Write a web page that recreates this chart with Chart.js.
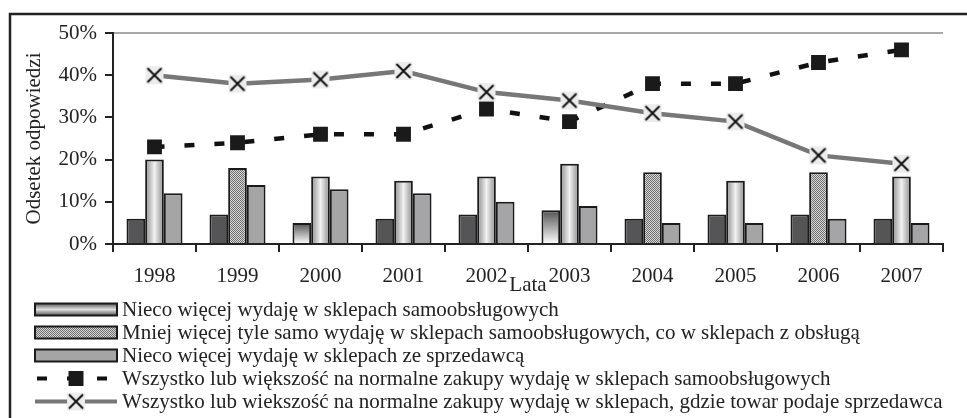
<!DOCTYPE html>
<html>
<head>
<meta charset="utf-8">
<script src="https://cdn.jsdelivr.net/npm/chart.js@4/dist/chart.umd.min.js"></script>
<style>
  html, body { margin: 0; padding: 0; background: #fff; }
  #wrap { width: 967px; height: 418px; position: relative; }
</style>
</head>
<body>
<div id="wrap"><canvas id="chart" width="967" height="418"></canvas></div>
<script>
// Dane (%)
const lata = ["1998", "1999", "2000", "2001", "2002", "2003", "2004", "2005", "2006", "2007"];
const niecoSamoobsl = [6, 7, 5, 6, 7, 8, 6, 7, 7, 6];
const tyleSamo = [20, 18, 16, 15, 16, 19, 17, 15, 17, 16];
const niecoSprzedawca = [12, 14, 13, 12, 10, 9, 5, 5, 6, 5];
const wszystkoSamoobsl = [23, 24, 26, 26, 32, 29, 38, 38, 43, 46];
const wszystkoSprzedawca = [40, 38, 39, 41, 36, 34, 31, 29, 21, 19];
const yTicks = [0, 10, 20, 30, 40, 50];

const etykiety = [
  "Nieco więcej wydaję w sklepach samoobsługowych",
  "Mniej więcej tyle samo wydaję w sklepach samoobsługowych, co w sklepach z obsługą",
  "Nieco więcej wydaję w sklepach ze sprzedawcą",
  "Wszystko lub większość na normalne zakupy wydaję w sklepach samoobsługowych",
  "Wszystko lub wiekszość na normalne zakupy wydaję w sklepach, gdzie towar podaje sprzedawca"
];

const FONT = "'Liberation Serif', 'Times New Roman', serif";
const INK = "#222";
const CAT_PCT = 0.675;

// wzór kropkowany dla drugiej serii
function dotPattern() {
  const c = document.createElement("canvas");
  c.width = 2; c.height = 2;
  const g = c.getContext("2d");
  g.fillStyle = "#d8d8d8"; g.fillRect(0, 0, 2, 2);
  g.fillStyle = "#6e6e6e"; g.fillRect(0, 0, 1, 1); g.fillRect(1, 1, 1, 1);
  return g.createPattern(c, "repeat");
}
const dots = dotPattern();

// znacznik X na jasnym kwadracie
function xMarker() {
  const c = document.createElement("canvas");
  c.width = 20; c.height = 20;
  const g = c.getContext("2d");
  g.fillStyle = "#ececec"; g.fillRect(1, 1, 18, 18);
  g.strokeStyle = "#111"; g.lineWidth = 2;
  g.beginPath();
  g.moveTo(3, 3); g.lineTo(17, 17);
  g.moveTo(17, 3); g.lineTo(3, 17);
  g.stroke();
  return c;
}
const xImg = xMarker();

function barWidth(chart) {
  const x = chart.scales.x;
  return (x.width / lata.length) * CAT_PCT / 3;
}

// poziomy gradient (jasny środek) dla części słupków drugiej serii
const gradIdx2 = [0, 2, 3, 4, 5, 7, 9];
function fill2(ctx) {
  const chart = ctx.chart;
  if (!chart.chartArea || !gradIdx2.includes(ctx.dataIndex)) return dots;
  const bw = barWidth(chart);
  const cx = chart.scales.x.getPixelForValue(ctx.dataIndex);
  const g = chart.ctx.createLinearGradient(cx - bw / 2, 0, cx + bw / 2, 0);
  g.addColorStop(0, "#8a8a8a");
  g.addColorStop(0.5, "#f2f2f2");
  g.addColorStop(1, "#8a8a8a");
  return g;
}

// pionowy gradient dla dwóch słupków pierwszej serii
const gradIdx1 = [2, 5];
function fill1(ctx) {
  const chart = ctx.chart;
  if (!chart.chartArea || !gradIdx1.includes(ctx.dataIndex)) return "#555558";
  const y = chart.scales.y;
  const g = chart.ctx.createLinearGradient(0, y.getPixelForValue(niecoSamoobsl[ctx.dataIndex]), 0, y.getPixelForValue(0));
  g.addColorStop(0, "#505050");
  g.addColorStop(1, "#ffffff");
  return g;
}

// ramka wokół całego wykresu
const ramka = {
  id: "ramka",
  beforeDraw(chart) {
    const c = chart.ctx;
    c.save();
    c.strokeStyle = "#222";
    c.lineWidth = 2.5;
    c.strokeRect(10, 14, 1100, 800);
    c.restore();
  }
};

// legenda pod wykresem
const legenda = {
  id: "legenda",
  afterDraw(chart) {
    const c = chart.ctx;
    const x0 = 35, bw = 82, tx = 122, y0 = 309.5, dy = 23;
    c.save();
    c.font = "21px " + FONT;
    c.textBaseline = "middle";
    chart.data.datasets.forEach((ds, i) => {
      const y = y0 + i * dy;
      if (ds.type === "bar") {
        let f;
        if (i === 0) {
          f = c.createLinearGradient(0, y - 6, 0, y + 6);
          f.addColorStop(0, "#5a5a5a");
          f.addColorStop(0.5, "#e0e0e0");
          f.addColorStop(1, "#5a5a5a");
        } else if (i === 1) f = dots;
        else f = "#a5a5a8";
        c.fillStyle = f;
        c.fillRect(x0, y - 6, bw, 12);
        c.strokeStyle = "#1a1a1a";
        c.lineWidth = 2;
        c.strokeRect(x0, y - 6, bw, 12);
      } else {
        c.strokeStyle = ds.borderColor;
        c.lineWidth = 4;
        c.setLineDash(ds.borderDash || []);
        c.lineDashOffset = ds.borderDash ? -2 : 0;
        c.beginPath();
        c.moveTo(x0, y); c.lineTo(x0 + bw, y);
        c.stroke();
        c.setLineDash([]);
        const mx = x0 + bw / 2;
        if (ds.pointStyle === "rect") {
          c.fillStyle = "#1a1a1a";
          c.fillRect(mx - 7.5, y - 7.5, 15, 15);
        } else {
          c.drawImage(xImg, mx - 10, y - 10);
        }
      }
      c.fillStyle = INK;
      c.fillText(ds.label, tx, y + 1);
    });
    c.restore();
  }
};

new Chart(document.getElementById("chart"), {
  data: {
    labels: lata,
    datasets: [
      { type: "bar", label: etykiety[0], data: niecoSamoobsl, backgroundColor: fill1, borderColor: "#1a1a1a", borderWidth: 2, order: 3 },
      { type: "bar", label: etykiety[1], data: tyleSamo, backgroundColor: fill2, borderColor: "#1a1a1a", borderWidth: 2, order: 3 },
      { type: "bar", label: etykiety[2], data: niecoSprzedawca, backgroundColor: "#a5a5a8", borderColor: "#1a1a1a", borderWidth: 2, order: 3 },
      {
        type: "line", label: etykiety[3], data: wszystkoSamoobsl,
        borderColor: "#111", borderWidth: 4.5, borderDash: [10, 20],
        pointStyle: "rect", pointRadius: 10.5, pointBackgroundColor: "#1a1a1a", pointBorderWidth: 0,
        order: 2
      },
      {
        type: "line", label: etykiety[4], data: wszystkoSprzedawca,
        borderColor: "#777777", borderWidth: 4.5,
        pointStyle: xImg, order: 1
      }
    ]
  },
  options: {
    responsive: false,
    animation: false,
    layout: { padding: { top: 33, right: 24, bottom: 120, left: 0 } },
    datasets: { bar: { categoryPercentage: CAT_PCT, barPercentage: 1 } },
    plugins: { legend: { display: false }, tooltip: { enabled: false } },
    scales: {
      x: {
        afterFit(s) { s.height = 54; },
        grid: {
          offset: true,
          color: (c) => c.index === lata.length ? "#a8a8a8" : "rgba(0,0,0,0)",
          lineWidth: 2,
          tickColor: "#222",
          tickLength: 8
        },
        border: { color: "#222", width: 2 },
        ticks: { color: INK, font: { family: FONT, size: 21 }, padding: 12, maxRotation: 0 },
        title: { display: true, text: "Lata", color: INK, font: { family: FONT, size: 21 }, padding: { top: 0, bottom: 0 } }
      },
      y: {
        min: 0, max: 50,
        afterFit(s) { s.width = 113; },
        afterBuildTicks(s) { s.ticks = yTicks.map(v => ({ value: v })); },
        grid: {
          color: (c) => c.tick && c.tick.value === 50 ? "#a8a8a8" : "rgba(0,0,0,0)",
          lineWidth: 2,
          tickColor: "#222",
          tickLength: 8
        },
        border: { color: "#222", width: 2 },
        ticks: { color: INK, font: { family: FONT, size: 21 }, padding: 8, callback: (v) => v + "%" },
        title: { display: true, text: "Odsetek odpowiedzi", color: INK, font: { family: FONT, size: 21 }, padding: { top: 22, bottom: 0 } }
      }
    }
  },
  plugins: [ramka, legenda]
});
</script>
</body>
</html>
